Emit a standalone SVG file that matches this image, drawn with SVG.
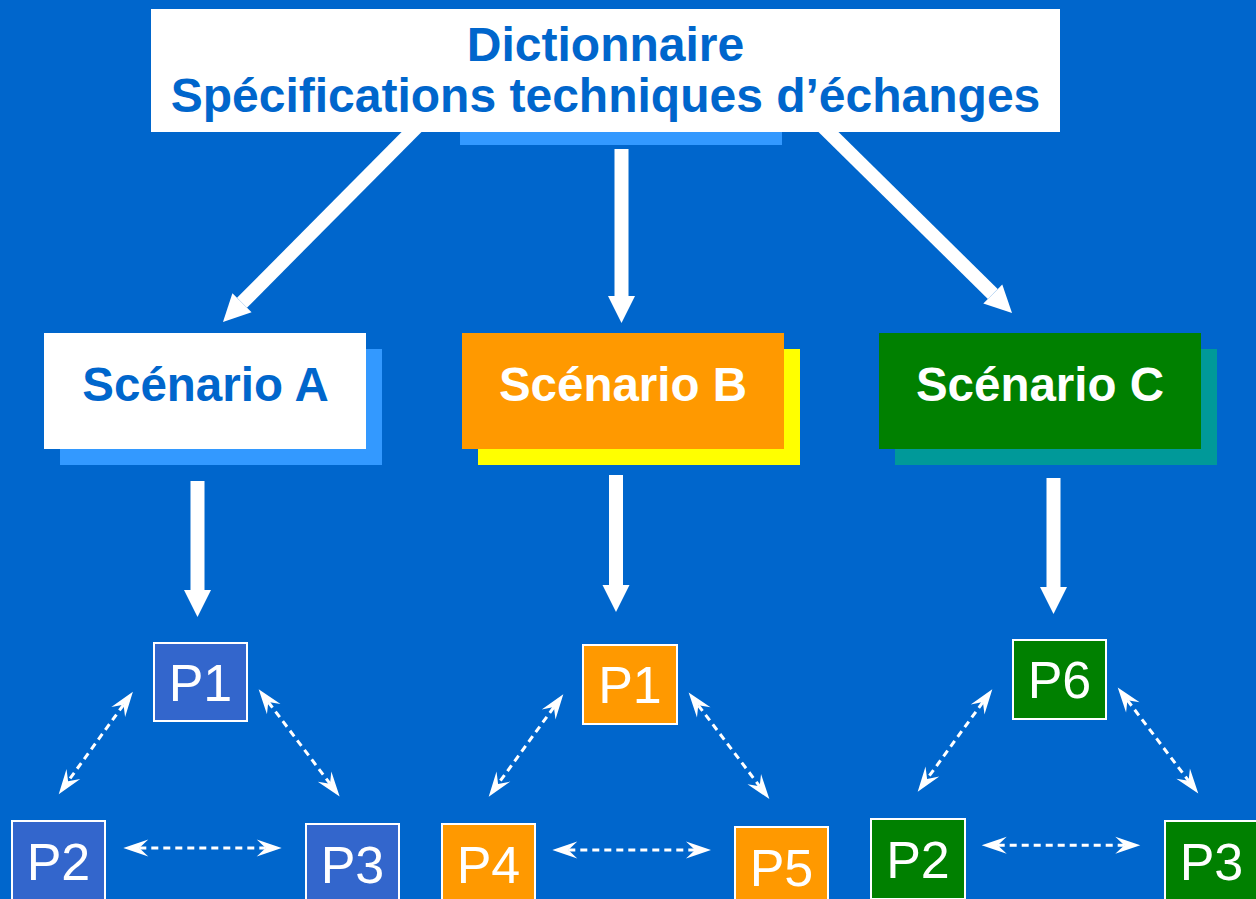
<svg xmlns="http://www.w3.org/2000/svg" width="1256" height="899" viewBox="0 0 1256 899">
  <defs>
    <marker id="bigHead" markerUnits="userSpaceOnUse" markerWidth="28" markerHeight="28" refX="0" refY="13.5" orient="auto" overflow="visible">
      <path d="M0,0 L27,13.5 L0,27 Z" fill="#FFFFFF"/>
    </marker>
    <marker id="stealth" markerUnits="userSpaceOnUse" markerWidth="26" markerHeight="18" refX="9" refY="8.5" orient="auto-start-reverse" overflow="visible">
      <path d="M0,0 L25,8.5 L0,17 L9,8.5 Z" fill="#FFFFFF"/>
    </marker>
    <style>
      .title { font-family: "Liberation Sans", Arial, sans-serif; font-weight: bold; font-size: 48px; fill: #0066CC; text-anchor: middle; }
      .scen { font-family: "Liberation Sans", Arial, sans-serif; font-weight: bold; font-size: 47.5px; text-anchor: middle; }
      .ptxt { font-family: "Liberation Sans", Arial, sans-serif; font-size: 52px; fill: #FFFFFF; text-anchor: middle; }
      .big { stroke: #FFFFFF; stroke-width: 14; fill: none; marker-end: url(#bigHead); }
      .dash { stroke: #FFFFFF; stroke-width: 3; stroke-dasharray: 7 5; fill: none; marker-start: url(#stealth); marker-end: url(#stealth); }
      .pA { fill: #3366CC; stroke: #FFFFFF; stroke-width: 2; }
      .pB { fill: #FF9900; stroke: #FFFFFF; stroke-width: 2; }
      .pC { fill: #008000; stroke: #FFFFFF; stroke-width: 2; }
    </style>
  </defs>

  <rect x="0" y="0" width="1256" height="899" fill="#0066CC"/>

  <g id="connectors">
    <line class="big" x1="417.5" y1="126" x2="242" y2="302.8"/>
    <line class="big" x1="621.5" y1="149" x2="621.5" y2="296"/>
    <line class="big" x1="822.4" y1="126" x2="992.8" y2="294"/>
    <line class="big" x1="197.5" y1="481" x2="197.5" y2="590"/>
    <line class="big" x1="616" y1="475" x2="616" y2="585"/>
    <line class="big" x1="1053.5" y1="478" x2="1053.5" y2="587"/>

    <line class="dash" x1="123.5" y1="704.8" x2="68.1" y2="781.2"/>
    <line class="dash" x1="268.3" y1="702" x2="330" y2="783.7"/>
    <line class="dash" x1="139.3" y1="848" x2="265.7" y2="848"/>

    <line class="dash" x1="553.9" y1="707.1" x2="498.1" y2="783.9"/>
    <line class="dash" x1="698.3" y1="705.3" x2="759.7" y2="786.3"/>
    <line class="dash" x1="568.3" y1="850" x2="695" y2="850"/>

    <line class="dash" x1="982.9" y1="702.1" x2="927.1" y2="778.9"/>
    <line class="dash" x1="1127.4" y1="700.2" x2="1188.6" y2="780.8"/>
    <line class="dash" x1="997.7" y1="845.3" x2="1124.3" y2="845.3"/>
  </g>

  <g id="dictionnaire">
    <rect x="460" y="120" width="322" height="25" fill="#3399FF"/>
    <rect x="151" y="9" width="909" height="123" fill="#FFFFFF"/>
    <text class="title" x="605.5" y="61">Dictionnaire</text>
    <text class="title" x="605.5" y="112">Spécifications techniques d’échanges</text>
  </g>

  <g id="scenarioA">
    <rect x="60" y="349" width="322" height="116" fill="#3399FF"/>
    <rect x="44" y="333" width="322" height="116" fill="#FFFFFF"/>
    <text class="scen" x="205.5" y="401" fill="#0066CC">Scénario A</text>
  </g>
  <g id="scenarioB">
    <rect x="478" y="349" width="322" height="116" fill="#FFFF00"/>
    <rect x="462" y="333" width="322" height="116" fill="#FF9900"/>
    <text class="scen" x="623" y="401" fill="#FFFFFF">Scénario B</text>
  </g>
  <g id="scenarioC">
    <rect x="895" y="349" width="322" height="116" fill="#009999"/>
    <rect x="879" y="333" width="322" height="116" fill="#008000"/>
    <text class="scen" x="1040" y="401" fill="#FFFFFF">Scénario C</text>
  </g>

  <g id="A-P1"><rect class="pA" x="154" y="643" width="93" height="78"/><text class="ptxt" x="200.5" y="700.5">P1</text></g>
  <g id="A-P2"><rect class="pA" x="12" y="821" width="93" height="80"/><text class="ptxt" x="58.5" y="880">P2</text></g>
  <g id="A-P3"><rect class="pA" x="306" y="824" width="93" height="80"/><text class="ptxt" x="352.5" y="883">P3</text></g>

  <g id="B-P1"><rect class="pB" x="583" y="645" width="94" height="79"/><text class="ptxt" x="630" y="703">P1</text></g>
  <g id="B-P4"><rect class="pB" x="442" y="824" width="93" height="80"/><text class="ptxt" x="488.5" y="883">P4</text></g>
  <g id="B-P5"><rect class="pB" x="735" y="827" width="93" height="80"/><text class="ptxt" x="781.5" y="886">P5</text></g>

  <g id="C-P6"><rect class="pC" x="1013" y="640" width="93" height="79"/><text class="ptxt" x="1059.5" y="698">P6</text></g>
  <g id="C-P2"><rect class="pC" x="871" y="819" width="94" height="80"/><text class="ptxt" x="918" y="878">P2</text></g>
  <g id="C-P3"><rect class="pC" x="1165" y="821" width="93" height="80"/><text class="ptxt" x="1211.5" y="880">P3</text></g>
</svg>
